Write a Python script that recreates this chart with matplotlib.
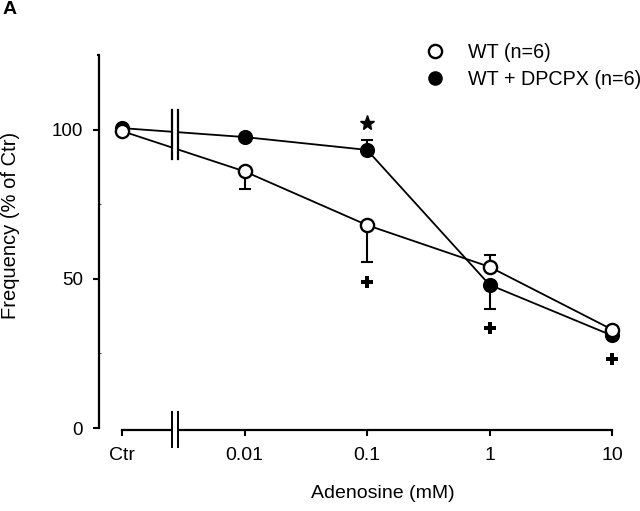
import matplotlib
matplotlib.use("Agg")
import matplotlib.pyplot as plt
from matplotlib.lines import Line2D
from matplotlib.patches import Rectangle
import numpy as np

plt.rcParams['font.family'] = ['Liberation Sans', 'DejaVu Sans']

# ---- data ----
categories = ["Ctr", "0.01", "0.1", "1", "10"]
wt_mean = [99.5, 86, 68, 54, 33]
wt_err_low = [0, 6, 12.5, 0, 0]
wt_err_high = [0, 0, 0, 4, 0]
dp_mean = [100.5, 97.5, 93.2, 48, 31]
dp_err_low = [0, 0, 0, 8, 0]
dp_err_high = [0, 0, 3.4, 0, 0]
star_cat = ["0.1"]
star_val = [102.3]
plus_cat = ["0.1", "1", "10"]
plus_val = [49, 33.5, 23]
yticks = [0, 50, 100]
yminor = [25, 75]

x = np.arange(len(categories))
pos = {c: i for i, c in enumerate(categories)}

fig = plt.figure(figsize=(6.4, 5.11), dpi=100)
ax = fig.add_axes([99/640, 1-432/511, 531/640, (432-55)/511])
ax.set_xlim(-0.188, 4.147)
ax.set_ylim(-1.34, 125)

lw = 1.3
ax.plot(x, dp_mean, color='black', lw=lw, zorder=2)
ax.plot(x, wt_mean, color='black', lw=lw, zorder=2)
ax.errorbar(x, dp_mean, yerr=[dp_err_low, dp_err_high], fmt='none', ecolor='black',
            elinewidth=1.5, capsize=4.5, capthick=1.5, zorder=2)
ax.errorbar(x, wt_mean, yerr=[wt_err_low, wt_err_high], fmt='none', ecolor='black',
            elinewidth=1.5, capsize=4.5, capthick=1.5, zorder=2)
ax.plot(x, dp_mean, 'o', ms=9.5, mfc='black', mec='black', mew=1.4, ls='none', zorder=4)
ax.plot(x, wt_mean, 'o', ms=9.5, mfc='white', mec='black', mew=1.7, ls='none', zorder=5)

ax.plot([pos[c] for c in star_cat], star_val, '*', ms=11, color='black', zorder=5)
ax.plot([pos[c] for c in plus_cat], plus_val, 'P', ms=8, color='black', mew=0, zorder=5)

# axis break marks
bx1, bx2 = 0.404, 0.453
ax.add_patch(Rectangle((bx1, 88), bx2-bx1, 20, fc='white', ec='none', zorder=6))
for bx in (bx1, bx2):
    ax.plot([bx, bx], [90, 106.7], color='black', lw=1.6, zorder=7)
ax.add_patch(Rectangle((bx1, -3), bx2-bx1, 5, fc='white', ec='none', zorder=6, clip_on=False))
for bx in (bx1, bx2):
    ax.plot([bx, bx], [-6.4, 5.4], color='black', lw=1.4, zorder=7, clip_on=False)

# spines
for s in ('top', 'right'):
    ax.spines[s].set_visible(False)
ax.spines['left'].set_bounds(0, 125)
ax.spines['left'].set_linewidth(1.6)
ax.spines['bottom'].set_bounds(0, 4)
ax.spines['bottom'].set_position(('data', -0.7))
ax.spines['bottom'].set_linewidth(1.6)

ax.set_xticks(x)
ax.set_xticklabels(categories)
ax.set_yticks(yticks)
ax.set_yticks(yminor, minor=True)
ax.tick_params(axis='y', which='major', direction='out', length=4.5, width=1.5, labelsize=13.5, pad=7)
ax.tick_params(axis='y', which='minor', direction='in', length=1.5, width=0.8, color='#555555')
ax.tick_params(axis='x', direction='out', length=4, width=1.5, labelsize=14, pad=8)
# small hook at the top of the y axis
ax.plot([-0.188, -0.205], [125, 125], color='black', lw=1.5, clip_on=False, solid_capstyle='butt')

fig.text(383/640, 1-494/511, "Adenosine (mM)", ha='center', va='center', fontsize=14)
fig.text(11/640, 1-225/511, "Frequency (% of Ctr)", ha='center', va='center', fontsize=14.5, rotation=90)
fig.text(3/640, 1-10/511, "A", ha='left', va='center', fontsize=14, fontweight='bold')

handles = [Line2D([], [], marker='o', ls='none', ms=9.5, mfc='white', mec='black', mew=1.7),
           Line2D([], [], marker='o', ls='none', ms=9.5, mfc='black', mec='black')]
fig.legend(handles, ["WT (n=6)", "WT + DPCPX (n=6)"], loc='upper left',
           bbox_to_anchor=(423/640, 1-43/511), frameon=False, fontsize=14.2,
           handlelength=1.2, handletextpad=1.07, labelspacing=0.4, borderaxespad=0, borderpad=0)

fig.savefig("out.png", dpi=100)
